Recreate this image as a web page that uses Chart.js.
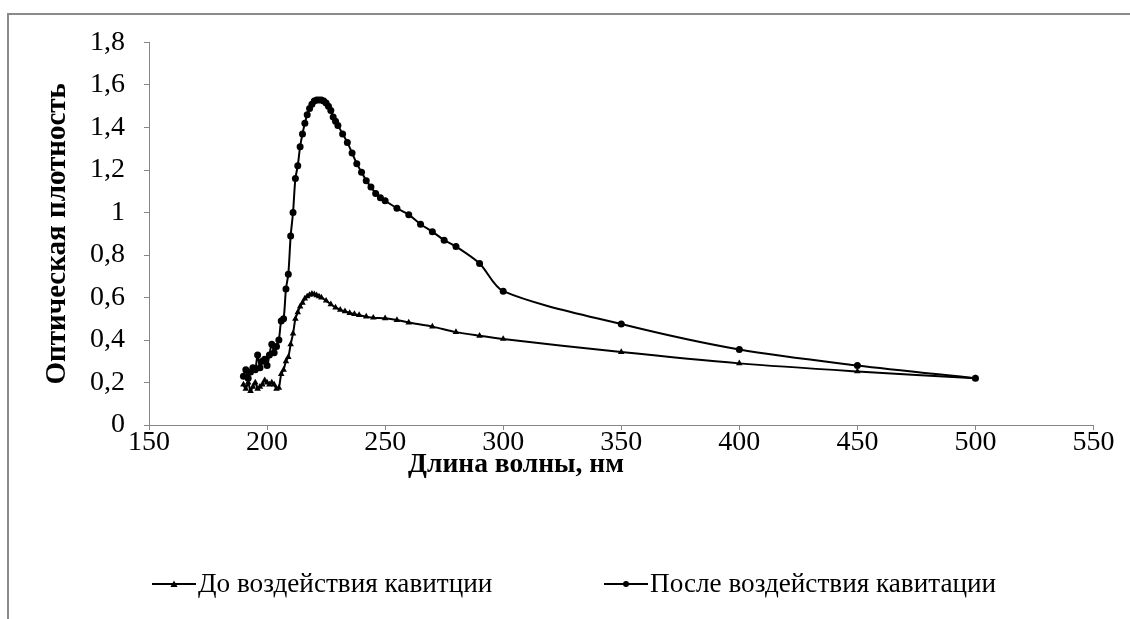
<!DOCTYPE html>
<html><head><meta charset="utf-8">
<style>
html,body{margin:0;padding:0;background:#fff;overflow:hidden;}
</style>
<script src="https://cdn.jsdelivr.net/npm/chart.js@4.4.1/dist/chart.umd.min.js"></script>
</head><body><canvas id="c" width="1130" height="619"></canvas>
<script>
// ---- data ----
const seriesNames = ['До воздействия кавитции', 'После воздействия кавитации'];

const wavelengthsBefore = [190,191,192,193,194,195,196,197,198,199,200,201,202,203,204,205,206,207,208,209,210,211,212,213,214,215,216,217,218,219,220,221,222,223,225,227,229,231,233,235,237,239,242,245,250,255,260,270,280,290,300,350,400,450,500];
const densityBefore     = [0.19,0.17,0.20,0.16,0.18,0.20,0.17,0.18,0.19,0.21,0.20,0.19,0.20,0.19,0.17,0.175,0.24,0.26,0.30,0.32,0.38,0.43,0.50,0.53,0.557,0.575,0.595,0.605,0.612,0.617,0.615,0.61,0.605,0.60,0.585,0.568,0.553,0.542,0.535,0.527,0.522,0.517,0.51,0.505,0.502,0.494,0.482,0.463,0.437,0.42,0.405,0.343,0.29,0.252,0.22];

const wavelengthsAfter = [190,191,192,193,194,195,196,197,198,199,200,201,202,203,204,205,206,207,208,209,210,211,212,213,214,215,216,217,218,219,220,221,222,223,224,225,226,227,228,229,230,232,234,236,238,240,242,244,246,248,250,255,260,265,270,275,280,290,300,350,400,450,500];
const densityAfter     = [0.23,0.26,0.22,0.25,0.27,0.26,0.33,0.27,0.30,0.31,0.28,0.33,0.38,0.34,0.37,0.40,0.49,0.50,0.64,0.71,0.89,1.00,1.16,1.22,1.31,1.37,1.42,1.46,1.49,1.51,1.525,1.53,1.53,1.53,1.525,1.515,1.50,1.48,1.45,1.43,1.41,1.37,1.33,1.28,1.23,1.19,1.15,1.12,1.09,1.07,1.055,1.02,0.99,0.945,0.91,0.87,0.84,0.76,0.63,0.475,0.355,0.28,0.22];

const xTickValues = [150,200,250,300,350,400,450,500,550];
const yTickValues = [0,0.2,0.4,0.6,0.8,1,1.2,1.4,1.6,1.8];

const xTitle = 'Длина волны, нм';
const yTitle = 'Оптическая плотность';

// ---- chart ----
const AX = '#868686';
const SERIF = '"Liberation Serif", "Times New Roman", serif';
const toPts = (xs, ys) => xs.map((x, i) => ({x: x, y: ys[i]}));
const fmt = v => String(Math.round(v * 10) / 10).replace('.', ',');

const frameAndLegend = {
  id: 'frameAndLegend',
  afterDraw(chart) {
    const ctx = chart.ctx;
    ctx.save();
    // outer frame (cut off at right and bottom)
    ctx.strokeStyle = '#8a8a8a';
    ctx.lineWidth = 2;
    ctx.strokeRect(8, 14, 1200, 700);
    // x axis title (offset left of the plot centre, as in the reference)
    ctx.fillStyle = '#000';
    ctx.font = 'bold 27.5px ' + SERIF;
    ctx.textAlign = 'center';
    ctx.textBaseline = 'middle';
    ctx.fillText(xTitle, 516, 465);
    // legend
    const y = 584;
    ctx.font = '27.2px ' + SERIF;
    ctx.textAlign = 'left';
    const items = [{x0: 152, ds: chart.data.datasets[0]}, {x0: 604, ds: chart.data.datasets[1]}];
    items.forEach(it => {
      ctx.strokeStyle = '#000';
      ctx.lineWidth = 2;
      ctx.beginPath();
      ctx.moveTo(it.x0, y);
      ctx.lineTo(it.x0 + 44, y);
      ctx.stroke();
      const cx = it.x0 + 22;
      ctx.beginPath();
      if (it.ds.pointStyle === 'triangle') {
        const r = 3.6;
        ctx.moveTo(cx, y - r);
        ctx.lineTo(cx + r, y + r * 0.8);
        ctx.lineTo(cx - r, y + r * 0.8);
        ctx.closePath();
      } else {
        ctx.arc(cx, y, 3, 0, Math.PI * 2);
      }
      ctx.fill();
      ctx.fillText(it.ds.label, it.x0 + 46, y + 1);
    });
    ctx.restore();
  }
};

new Chart(document.getElementById('c'), {
  type: 'line',
  data: {
    datasets: [
      {label: seriesNames[0], data: toPts(wavelengthsBefore, densityBefore), borderColor: '#000', backgroundColor: '#000',
       borderWidth: 2, pointStyle: 'triangle', pointRadius: 3.8, pointBorderWidth: 0, tension: 0.3},
      {label: seriesNames[1], data: toPts(wavelengthsAfter, densityAfter), borderColor: '#000', backgroundColor: '#000',
       borderWidth: 2, pointStyle: 'circle', pointRadius: 3.5, pointBorderWidth: 0, tension: 0.3}
    ]
  },
  options: {
    responsive: false,
    animation: false,
    events: [],
    layout: {padding: {left: 40.6, right: 36.5, top: 42.5, bottom: 134}},
    plugins: {legend: {display: false}, tooltip: {enabled: false}},
    scales: {
      x: {
        type: 'linear', min: 150, max: 550,
        afterBuildTicks: s => { s.ticks = xTickValues.map(v => ({value: v})); },
        afterFit: s => { s.height = 60; },
        grid: {drawOnChartArea: false, drawTicks: true, tickLength: 5, color: AX},
        border: {color: AX, width: 1},
        ticks: {color: '#000', padding: -4, maxRotation: 0, font: {family: SERIF, size: 28}, callback: v => String(v)},
        title: {display: false}
      },
      y: {
        type: 'linear', min: 0, max: 1.8,
        afterBuildTicks: s => { s.ticks = yTickValues.map(v => ({value: v})); },
        afterFit: s => { s.width = 108.4; },
        grid: {drawOnChartArea: false, drawTicks: true, tickLength: 5, color: AX},
        border: {color: AX, width: 1},
        ticks: {color: '#000', padding: 19, font: {family: SERIF, size: 28}, callback: v => fmt(v)},
        title: {display: true, text: yTitle, color: '#000', padding: 0, font: {family: SERIF, size: 29, weight: 'bold'}}
      }
    }
  },
  plugins: [frameAndLegend]
});
</script>
</body></html>
